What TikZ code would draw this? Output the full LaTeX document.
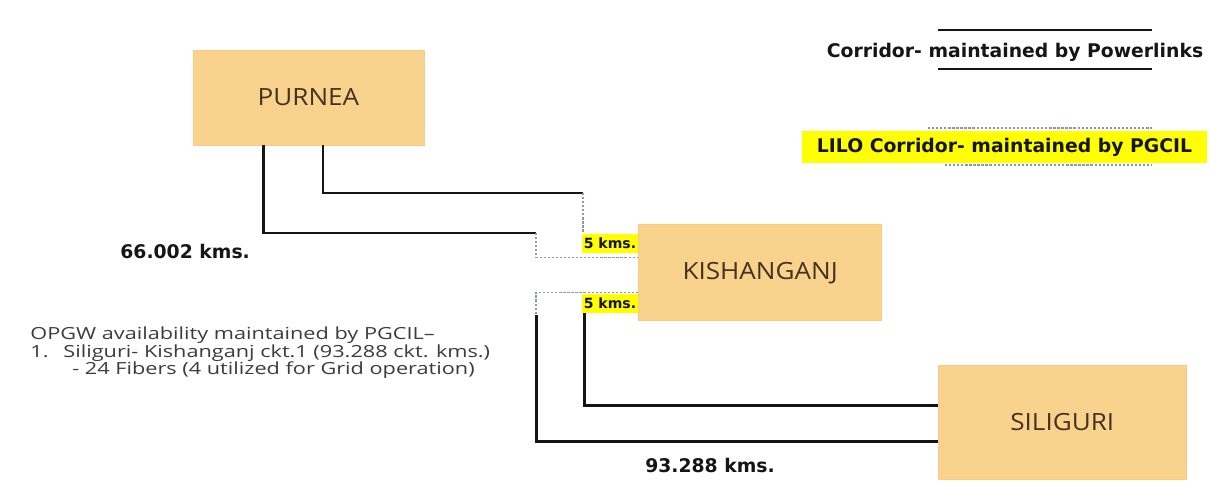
\documentclass[tikz,border=0pt]{standalone}
\usepackage{fontspec}
\usepackage{tikz}
\usetikzlibrary{positioning}
\newfontfamily\boxfont[FakeStretch=1.1]{Open Sans}
\newfontfamily\notefont[FakeStretch=1.3]{Open Sans}
\newfontfamily\labfont{DejaVu Sans}
\definecolor{ink}{HTML}{151515}
\definecolor{stn}{HTML}{F9D28D}
\definecolor{stntext}{HTML}{43331F}
\definecolor{hilite}{HTML}{FFFF00}
\definecolor{lilo}{HTML}{8E98A8}
\definecolor{note}{HTML}{3C3C3C}

\begin{document}
\begin{tikzpicture}[x=0.02cm,y=-0.02cm,
  station/.style={fill=stn,draw=stn!90!orange,line width=0.4pt,text=stntext,font=\boxfont\fontsize{13.5}{15}\selectfont},
  corridor/.style={line width=1.7pt,ink},
  liloline/.style={line width=0.6pt,lilo,dash pattern=on 1.3pt off 1pt},
  kmlabel/.style={text=ink,font=\labfont\bfseries\fontsize{10.7}{12}\selectfont,inner sep=0pt},
  kmtag/.style={fill=hilite,text=ink,font=\labfont\bfseries\fontsize{8}{9}\selectfont,inner sep=1pt,minimum height=0.38cm},
  notetext/.style={text=note,font=\notefont\fontsize{9.5}{11}\selectfont,inner sep=0pt,anchor=west}]
\fill[white] (0,0) rectangle (1210,493);
\useasboundingbox (0,0) rectangle (1210,493);
% stations
\node[station,minimum width=4.62cm,minimum height=1.9cm] (purnea) at (308.5,97.5) {PURNEA};
\node[station,minimum width=4.86cm,minimum height=1.92cm,below right=1.58cm and 4.28cm of purnea] (kish) {KISHANGANJ};
\node[station,minimum width=4.96cm,minimum height=2.28cm,below right=0.88cm and 1.12cm of kish] (sil) {SILIGURI};
% LILO lengths
\node[kmtag,below left=0.18cm and 0pt of kish.north west] (k5a) {5 kms.};
\node[kmtag,above left=0.16cm and 0pt of kish.south west] (k5b) {5 kms.};
% bends
\coordinate (j1) at (536,233);
\coordinate (j2) at (583,193);
\coordinate (j3) at (536,315);
\draw[corridor] ([xshift=-0.91cm]purnea.south) |- (j1);
\draw[liloline] (j1) |- ([yshift=0.3cm]kish.west);
\draw[corridor] ([xshift=0.29cm]purnea.south) |- (j2);
\draw[liloline] (j2) -- (j2 |- k5a.north);
\draw[liloline] ([yshift=-0.4cm]kish.west) -| (j3);
\draw[corridor] (j3) |- ([yshift=-0.38cm]sil.west);
\draw[corridor] ([xshift=0.05cm]k5b.south west) |- ([yshift=0.34cm]sil.west);
% distances
\node[kmlabel,anchor=west] (d1) at (120,251) {66.002 kms.};
\node[kmlabel] (d2) at (710,465) {93.288 kms.};
% legend
\node[kmlabel] (legpl) at (1015,52) {Corridor- maintained by Powerlinks};
\draw[corridor] (938,30) -- (1152,30);
\draw[corridor] (938,69) -- (1152,69);
\node[kmlabel,fill=hilite,minimum width=8.1cm,minimum height=0.64cm] (leglilo) at (1004.5,147) {LILO Corridor- maintained by PGCIL};
\draw[liloline] (928,128) -- (1152,128);
\draw[liloline] (945,165) -- (1152,165);
% OPGW note
\node[notetext] (opgw1) at (30,335) {OPGW availability maintained by PGCIL–};
\node[notetext] (opgw2) at (30,353) {1.\hspace{8.5pt}Siliguri- Kishanganj ckt.1 (93.288 ckt. kms.)};
\node[notetext] (opgw3) at (72,370) {- 24 Fibers (4 utilized for Grid operation)};
\end{tikzpicture}
\end{document}
